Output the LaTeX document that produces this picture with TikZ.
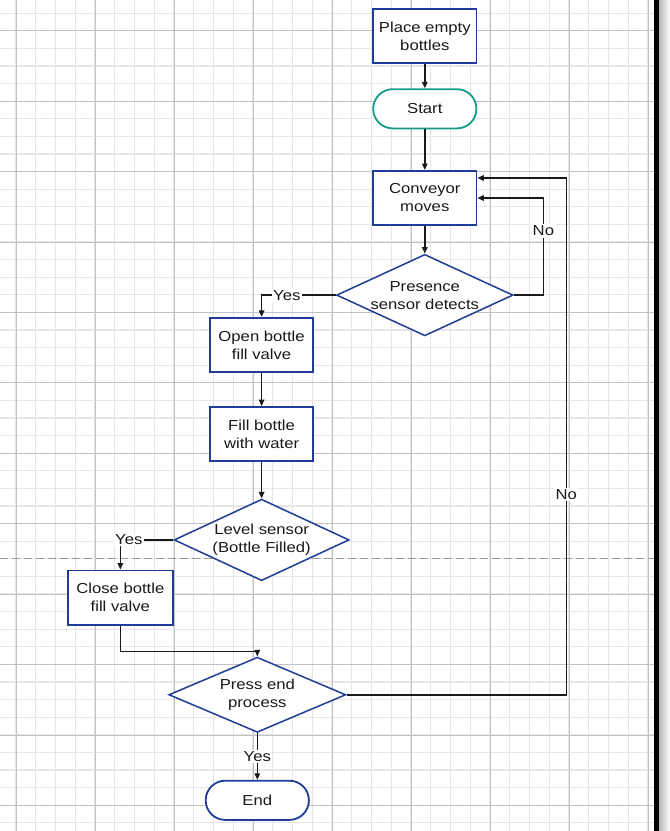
\documentclass[tikz,border=0pt]{standalone}
\usepackage{fontspec}
\setmainfont{Liberation Sans}[FakeStretch=1.15]
\usetikzlibrary{positioning,arrows.meta,shapes.geometric}
\definecolor{boxblue}{HTML}{1F3C96}
\definecolor{startteal}{HTML}{149C8A}
\definecolor{gridminor}{HTML}{E6E6E6}
\definecolor{gridmajor}{HTML}{C2C2C2}
\definecolor{ink}{HTML}{1A1A1A}

\begin{document}
\begin{tikzpicture}[
  x=1pt, y=1pt,
  font=\fontsize{14.5}{18}\selectfont,
  process/.style={rectangle, draw=boxblue, line width=1.8pt, fill=white,
    minimum width=103.2pt, minimum height=54.2pt, align=center, text=ink},
  terminal/.style={rectangle, draw=boxblue, line width=1.8pt, fill=white,
    rounded corners=19.5pt, minimum width=103.2pt, minimum height=39.2pt,
    align=center, text=ink},
  decision/.style={diamond, draw=boxblue, line width=1.5pt, fill=white,
    aspect=2.15, inner sep=0pt, minimum width=176.5pt, minimum height=81.5pt,
    align=center, text=ink},
  lbl/.style={fill=white, inner sep=1.5pt, text=ink},
  arr/.style={-{Triangle[length=6.5pt,width=5.5pt]}, line width=1.5pt, draw=ink}
]
\useasboundingbox (0,0) rectangle (670,-831);
% background grid
\foreach \i in {0,...,32}
  \draw[gridminor, line width=1.2pt] ({16+19.75*\i},0) -- ({16+19.75*\i},-831);
\foreach \j in {0,...,46}
  \draw[gridminor, line width=1.2pt] (0,{-(13.1+17.6*\j)}) -- (654,{-(13.1+17.6*\j)});
\foreach \i in {0,...,8}
  \draw[gridmajor, line width=1pt] ({16+79*\i},0) -- ({16+79*\i},-831);
\foreach \j in {0,...,11}
  \draw[gridmajor, line width=1pt] (0,{-(30.7+70.45*\j)}) -- (654,{-(30.7+70.45*\j)});
\draw[gray!80, line width=1pt, dash pattern=on 8pt off 4pt] (0,-558) -- (654,-558);
\fill[black] (654,0) rectangle (659,-831);
\shade[left color=gray!55, right color=white] (659,0) rectangle (670,-831);

% flowchart
\node[process] (place) at (424.8,-36) {Place empty\\bottles};
\node[terminal, draw=startteal, below=24.3pt of place] (start) {Start};
\node[process, below=40.7pt of start] (conveyor) {Conveyor\\moves};
\node[decision, below=27.6pt of conveyor] (presence) {Presence\\sensor detects};
\node[process, below=21.8pt of presence.west, xshift=-74.2pt] (openv) {Open bottle\\fill valve};
\node[process, below=33.2pt of openv] (fill) {Fill bottle\\with water};
\node[decision, minimum width=175pt, below=36.3pt of fill] (level) {Level sensor\\(Bottle Filled)};
\node[process, minimum width=104.8pt, below=29.7pt of level.west, xshift=-53pt] (closev) {Close bottle\\fill valve};
\node[decision, minimum width=177pt, minimum height=75.2pt,
  below=75pt of level, xshift=-4.3pt] (press) {Press end\\process};
\node[terminal, below=46.7pt of press] (stop) {End};

\draw[arr] (place) -- (start);
\draw[arr] (start) -- (conveyor);
\draw[arr] (conveyor) -- (presence);
\draw[arr] (presence.east) -- ++(29.6,0) |- (conveyor.east)
  node[lbl, pos=0.33] {No};
\draw[arr] (presence.west) -| (openv.north) node[lbl, pos=0.33] {Yes};
\draw[arr] (openv) -- (fill);
\draw[arr] (fill) -- (level);
\draw[arr] (level.west) -| (closev.north) node[lbl, pos=0.42] {Yes};
\draw[arr] (closev.south) -- ++(0,-25.7) -| (press.north);
\draw[arr] (press) -- (stop) node[lbl, midway] {Yes};
\draw[arr] (press.east) -- ++(219.7,0) |- ([yshift=20pt]conveyor.east)
  node[lbl, pos=0.194] {No};
\end{tikzpicture}
\end{document}
